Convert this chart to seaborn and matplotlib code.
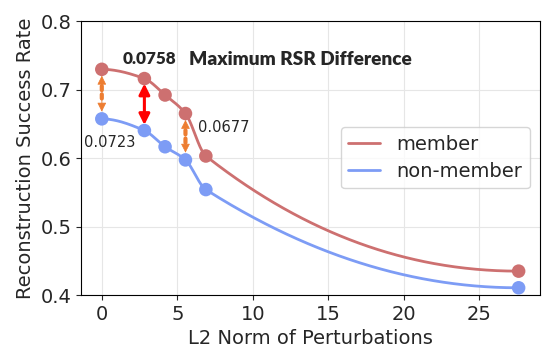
import numpy as np
import pandas as pd
import matplotlib
matplotlib.use("Agg")
import matplotlib.pyplot as plt
import seaborn as sns

# data
l2_norm = [0.0, 2.82, 4.19, 5.54, 6.89, 27.6]
member_rsr = [0.7295, 0.716, 0.692, 0.665, 0.603, 0.435]
nonmember_rsr = [0.6572, 0.6402, 0.6165, 0.5973, 0.554, 0.4107]
groups = ["member", "non-member"]
colors = {"member": "#cd7070", "non-member": "#7d9cf5"}


def pchip(x, y, xs):
    '''monotone cubic through the points, only used to draw the smooth line'''
    x = np.asarray(x, float)
    y = np.asarray(y, float)
    h = np.diff(x)
    d = np.diff(y) / h
    n = len(x)
    m = np.zeros(n)
    for k in range(1, n - 1):
        if d[k - 1] * d[k] > 0:
            w1 = 2 * h[k] + h[k - 1]
            w2 = h[k] + 2 * h[k - 1]
            m[k] = (w1 + w2) / (w1 / d[k - 1] + w2 / d[k])

    def end(h0, h1, d0, d1):
        s = ((2 * h0 + h1) * d0 - h0 * d1) / (h0 + h1)
        if np.sign(s) != np.sign(d0):
            return 0.0
        if np.sign(d0) != np.sign(d1) and abs(s) > 3 * abs(d0):
            return 3 * d0
        return s

    m[0] = end(h[0], h[1], d[0], d[1])
    m[-1] = end(h[-1], h[-2], d[-1], d[-2])
    idx = np.clip(np.searchsorted(x, xs) - 1, 0, n - 2)
    t = (xs - x[idx]) / h[idx]
    h00 = 2 * t**3 - 3 * t**2 + 1
    h10 = t**3 - 2 * t**2 + t
    h01 = -2 * t**3 + 3 * t**2
    h11 = t**3 - t**2
    return (h00 * y[idx] + h10 * h[idx] * m[idx]
            + h01 * y[idx + 1] + h11 * h[idx] * m[idx + 1])


points = pd.DataFrame({
    "l2": l2_norm * 2,
    "rsr": member_rsr + nonmember_rsr,
    "group": ["member"] * len(l2_norm) + ["non-member"] * len(l2_norm),
})

xs = np.linspace(l2_norm[0], l2_norm[-1], 400)
curves = pd.DataFrame({
    "l2": np.concatenate([xs, xs]),
    "rsr": np.concatenate([pchip(l2_norm, member_rsr, xs),
                           pchip(l2_norm, nonmember_rsr, xs)]),
    "group": ["member"] * len(xs) + ["non-member"] * len(xs),
})

sns.set_style("ticks", {"axes.grid": True, "grid.color": "#e6e6e6",
                        "axes.edgecolor": "black"})
plt.rcParams["font.family"] = ["DejaVu Sans"]

fig = plt.figure(figsize=(5.48, 3.56), dpi=100)
ax = fig.add_axes([0.148, 0.171, 0.837, 0.770])

sns.lineplot(data=curves, x="l2", y="rsr", hue="group", hue_order=groups,
             palette=colors, linewidth=2, ax=ax)
sns.scatterplot(data=points, x="l2", y="rsr", hue="group", hue_order=groups,
                palette=colors, s=95, edgecolor="none", legend=False,
                zorder=3, ax=ax)

# dotted orange difference arrows: dotted shaft + solid heads
for i in [0, 3]:
    ax.annotate("", xy=(l2_norm[i], nonmember_rsr[i]),
                xytext=(l2_norm[i], member_rsr[i]),
                arrowprops=dict(arrowstyle="-", color="#ed7d31", lw=3,
                                linestyle=(0, (1, 1)), shrinkA=12, shrinkB=12),
                zorder=4)
    ax.annotate("", xy=(l2_norm[i], member_rsr[i]), xytext=(0, -14),
                textcoords="offset points",
                arrowprops=dict(arrowstyle="-|>", color="#ed7d31", lw=0.5,
                                shrinkA=0, shrinkB=4.6, mutation_scale=14),
                zorder=4)
    ax.annotate("", xy=(l2_norm[i], nonmember_rsr[i]), xytext=(0, 14),
                textcoords="offset points",
                arrowprops=dict(arrowstyle="-|>", color="#ed7d31", lw=0.5,
                                shrinkA=0, shrinkB=5.2, mutation_scale=14),
                zorder=4)

# solid red arrow at the maximum gap
ax.annotate("", xy=(l2_norm[1], nonmember_rsr[1]),
            xytext=(l2_norm[1], member_rsr[1]),
            arrowprops=dict(arrowstyle="<|-|>", color="red", lw=2.2,
                            shrinkA=3.6, shrinkB=4, mutation_scale=16),
            zorder=4)

ax.text(0.55, 0.622, "0.0723", fontsize=10.5, ha="center", va="center")
ax.text(6.36, 0.644, "0.0677", fontsize=10.5, ha="left", va="center")
ax.text(1.41, 0.7445, "0.0758", fontsize=12.3, fontweight="heavy",
        family="Lato", ha="left", va="center")
ax.text(5.75, 0.7445, "Maximum RSR Difference", fontsize=13.7,
        fontweight="heavy", family="Lato", ha="left", va="center")

ax.set_xlim(-1.37, 29.0)
ax.set_ylim(0.4, 0.8)
ax.set_xticks([0, 5, 10, 15, 20, 25])
ax.set_yticks([0.4, 0.5, 0.6, 0.7, 0.8])
ax.tick_params(labelsize=14)
ax.set_xlabel("L2 Norm of Perturbations", fontsize=14)
ax.set_ylabel("Reconstruction Success Rate", fontsize=14)
for s in ax.spines.values():
    s.set_visible(True)
    s.set_color("black")

ax.legend(title=None, fontsize=14, loc="upper right",
          bbox_to_anchor=(0.978, 0.613), borderaxespad=0,
          handlelength=1.65, labelspacing=0.4, frameon=True)

fig.savefig("out.png", dpi=100)
